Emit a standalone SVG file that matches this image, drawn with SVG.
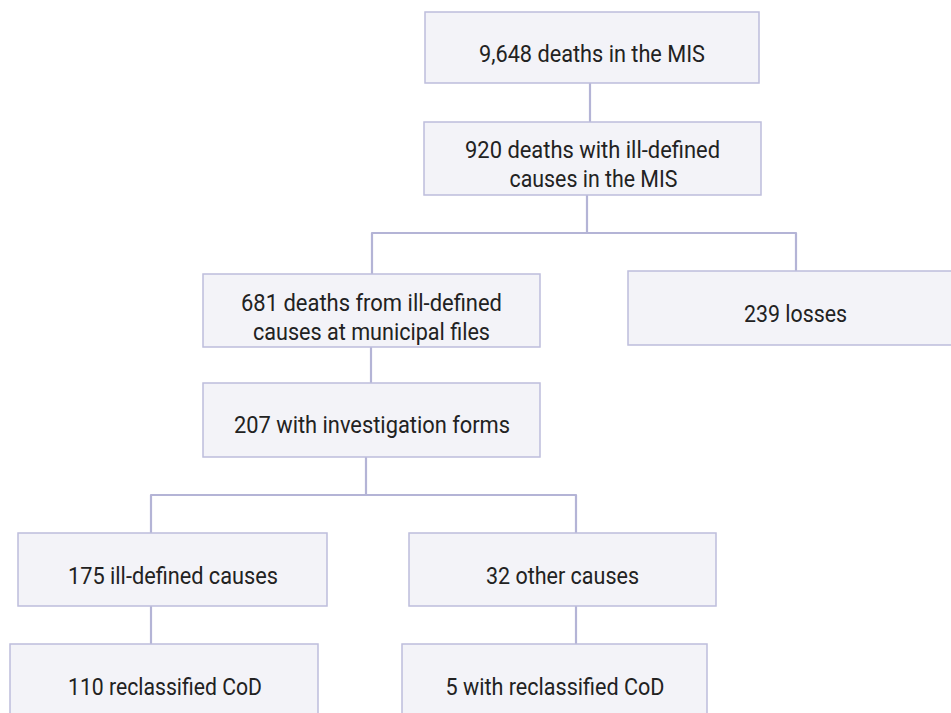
<svg xmlns="http://www.w3.org/2000/svg" width="951" height="713" viewBox="0 0 951 713">
<style>
.box{fill:#f3f3f8;stroke:#bdbddc;stroke-width:1.5}
.lbl{font-family:Roboto,"Liberation Sans",Arial,sans-serif;font-size:24px;fill:#222;text-anchor:middle}
.edge{fill:none;stroke:#b4b4d6;stroke-width:2.2;stroke-linejoin:round}
</style>
<rect width="951" height="713" fill="#ffffff"/>
<g id="connectors">
<path class="edge" d="M590,83 V122"/>
<path class="edge" d="M587,195 V233 H372 V274"/>
<path class="edge" d="M587,233 H796 V271"/>
<path class="edge" d="M371,347 V383"/>
<path class="edge" d="M366,457 V495 H151 V533"/>
<path class="edge" d="M366,495 H576 V533"/>
<path class="edge" d="M151,606 V644"/>
<path class="edge" d="M576,606 V644"/>
</g>
<g id="n1"><rect class="box" x="425" y="12" width="334" height="71"/><text class="lbl" x="592" y="62" textLength="226" lengthAdjust="spacingAndGlyphs">9,648 deaths in the MIS</text></g>
<g id="n2"><rect class="box" x="424" y="122" width="337" height="73"/><text class="lbl" x="592.5" y="158" textLength="255" lengthAdjust="spacingAndGlyphs">920 deaths with ill-defined</text><text class="lbl" x="593.5" y="187" textLength="168" lengthAdjust="spacingAndGlyphs">causes in the MIS</text></g>
<g id="n3"><rect class="box" x="203" y="274" width="337" height="73"/><text class="lbl" x="371.5" y="311" textLength="261" lengthAdjust="spacingAndGlyphs">681 deaths from ill-defined</text><text class="lbl" x="371.5" y="339.5" textLength="237" lengthAdjust="spacingAndGlyphs">causes at municipal files</text></g>
<g id="n4"><rect class="box" x="628" y="271" width="337" height="74"/><text class="lbl" x="795.5" y="322" textLength="103" lengthAdjust="spacingAndGlyphs">239 losses</text></g>
<g id="n5"><rect class="box" x="203" y="383" width="337" height="74"/><text class="lbl" x="372" y="433" textLength="276" lengthAdjust="spacingAndGlyphs">207 with investigation forms</text></g>
<g id="n6"><rect class="box" x="18" y="533" width="309" height="73"/><text class="lbl" x="173" y="584" textLength="210" lengthAdjust="spacingAndGlyphs">175 ill-defined causes</text></g>
<g id="n7"><rect class="box" x="409" y="533" width="307" height="73"/><text class="lbl" x="562.5" y="583.5" textLength="153" lengthAdjust="spacingAndGlyphs">32 other causes</text></g>
<g id="n8"><rect class="box" x="10" y="644" width="308" height="80"/><text class="lbl" x="165" y="695" textLength="194" lengthAdjust="spacingAndGlyphs">110 reclassified CoD</text></g>
<g id="n9"><rect class="box" x="402" y="644" width="305" height="80"/><text class="lbl" x="555" y="695" textLength="219" lengthAdjust="spacingAndGlyphs">5 with reclassified CoD</text></g>
</svg>
